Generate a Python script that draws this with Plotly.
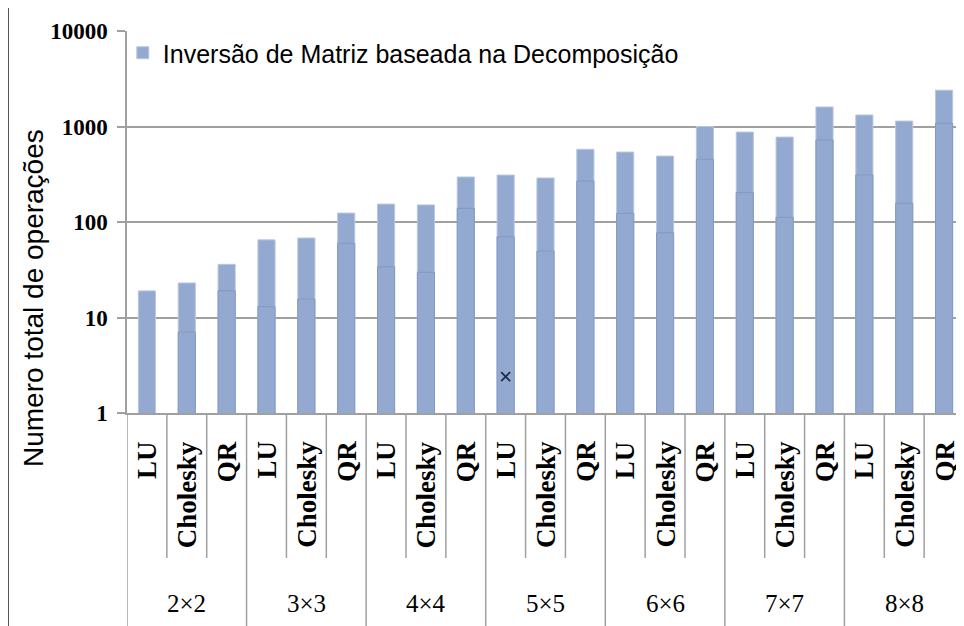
import plotly.graph_objects as go

groups = ["2×2", "3×3", "4×4", "5×5", "6×6", "7×7", "8×8"]
methods = ["LU", "Cholesky", "QR"]
total_ops = [19, 23, 36, 65, 68, 124, 154, 151, 296, 310, 289, 578,
             540, 490, 1000, 874, 775, 1600, 1320, 1140, 2400]
inner_ops = [None, 7.05, 19.1, 13.0, 15.6, 59.8, 34, 29.7, 139, 70, 49.7, 269,
             123, 77, 454, 203, 112, 722, 311, 157, 1080]
marker_idx = [9]
marker_val = [2.4]
y_ticks = [1, 10, 100, 1000, 10000]
legend_name = "Inversão de Matriz baseada na Decomposição"
y_title = "Numero total de operações"

n = len(groups) * len(methods)
xs = list(range(n))
bar_color = "#94A9D0"

fig = go.Figure()
fig.add_trace(go.Bar(x=xs, y=total_ops, name=legend_name, marker_color=bar_color,
                     marker_line=dict(color="#b9c6e1", width=1)))
fig.add_trace(go.Bar(x=xs, y=inner_ops, name="inner", showlegend=False,
                     marker_color=bar_color, marker_line=dict(color="#8199c6", width=1)))
fig.add_trace(go.Scatter(x=marker_idx, y=marker_val, mode="markers", showlegend=False,
                         marker=dict(symbol="x-thin", size=9,
                                     line=dict(color="#1f2d4d", width=1.8))))

ser = "Liberation Serif"
sans = "Liberation Sans"

# page geometry (px, page has an 8px body margin): plot left 127, right 964, top 31, bottom 413
OFF = 8
P_LEFT, P_RIGHT, P_TOP, P_BOT = 127, 964, 31, 413


def py(p):
    return (P_BOT - p) / float(P_BOT - P_TOP)


def px(p):
    return (p - P_LEFT) / float(P_RIGHT - P_LEFT)


annotations = []
for i in range(n):
    annotations.append(dict(x=i, y=py(439), xref="x", yref="paper", text=methods[i % 3],
                            showarrow=False, textangle=-90, yanchor="top", xanchor="center",
                            font=dict(family=ser, size=27, color="black", weight="bold")))
for g, name in enumerate(groups):
    annotations.append(dict(x=3 * g + 1, y=py(603), xref="x", yref="paper", text=name,
                            showarrow=False, yanchor="middle", xanchor="center",
                            font=dict(family=ser, size=25, color="black")))
annotations.append(dict(x=px(33), y=py(298), xref="paper", yref="paper", text=y_title,
                        showarrow=False, textangle=-90, xanchor="center", yanchor="middle",
                        font=dict(family=sans, size=28, color="black")))

shapes = []
for k in range(n + 1):
    xb = k - 0.5
    bottom = py(626) if k % 3 == 0 else py(558)
    shapes.append(dict(type="line", xref="x", yref="paper", x0=xb, x1=xb, y0=0, y1=bottom,
                       line=dict(color="#a0a0a0", width=1.5)))
# outer frame (left and top)
shapes.append(dict(type="line", xref="paper", yref="paper", x0=px(8), x1=px(8),
                   y0=py(6), y1=py(630), line=dict(color="#555555", width=2)))
shapes.append(dict(type="line", xref="paper", yref="paper", x0=px(8), x1=px(970),
                   y0=py(6), y1=py(6), line=dict(color="black", width=2)))

W, H = 964 - OFF, 626 - OFF
fig.update_layout(
    width=W, height=H,
    margin=dict(l=P_LEFT - OFF, r=964 - P_RIGHT, t=P_TOP - OFF, b=H - (P_BOT - OFF)),
    paper_bgcolor="white", plot_bgcolor="white",
    barmode="overlay", bargap=0.57,
    showlegend=True,
    legend=dict(x=-0.005, y=py(53), xanchor="left", yanchor="middle",
                font=dict(family=sans, size=25, color="black"),
                bgcolor="rgba(0,0,0,0)"),
    annotations=annotations, shapes=shapes,
    xaxis=dict(range=[-0.5, n - 0.5], showticklabels=False, showgrid=False,
               zeroline=False, showline=True, linecolor="#a0a0a0", linewidth=1.5,
               ticks=""),
    yaxis=dict(type="log", range=[0, 4], tickvals=y_ticks,
               ticktext=[str(v) for v in y_ticks],
               tickfont=dict(family=ser, size=23, color="black", weight="bold"),
               ticks="outside", ticklen=8, tickcolor="#a0a0a0", tickwidth=1.5,
               ticklabelstandoff=5,
               showgrid=True, gridcolor="#a0a0a0", gridwidth=1.5,
               showline=True, linecolor="#a0a0a0", linewidth=1.5, zeroline=False),
)

fig.write_html("out.html")
